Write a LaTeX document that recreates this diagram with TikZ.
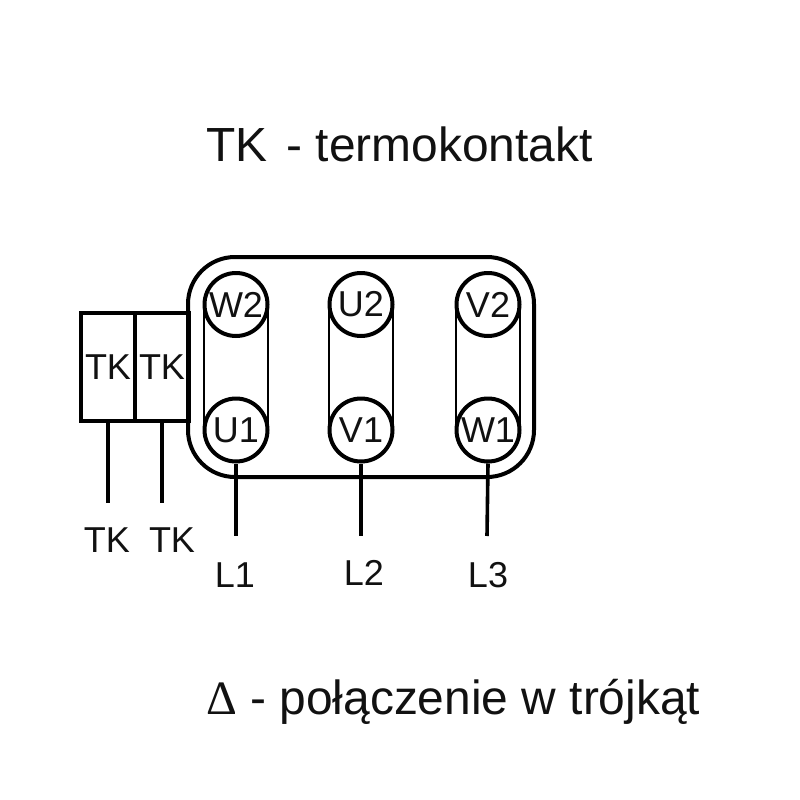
\documentclass[tikz,border=0pt]{standalone}
\usepackage{fontspec}
\setmainfont{Liberation Sans}
\newfontfamily\deltafont{Liberation Serif}
\definecolor{ink}{HTML}{111111}
\tikzset{
  x=1pt,y=-1pt,
  lead/.style={draw=black,line width=3.6pt},
  thinlink/.style={draw=black,line width=2.2pt},
  term/.style={circle,draw=black,line width=4pt,fill=white,minimum size=63pt,inner sep=0pt,text=ink,font=\fontsize{36}{36}\selectfont},
  tkbox/.style={rectangle,draw=black,line width=4pt,minimum width=54pt,minimum height=108pt,inner sep=0pt,text=ink,font=\fontsize{36}{36}\selectfont},
  lab/.style={inner sep=0pt,text=ink,font=\fontsize{36}{36}\selectfont},
  big/.style={inner sep=0pt,text=ink,anchor=base west,font=\fontsize{47.9}{48}\selectfont},
}
\begin{document}
\begin{tikzpicture}
\useasboundingbox (0,0) rectangle (800,800);
\fill[white] (0,0) rectangle (800,800);
\node[big] (title) at (206,161) {TK\hspace{6pt} - termokontakt};
\node[big] (legend) at (206,714) {{\deltafont Δ} - połączenie w trójkąt};
% housing
\node[rectangle,draw=black,line width=4pt,rounded corners=47pt,minimum width=346pt,minimum height=220pt,inner sep=0pt] (housing) at (361,367) {};
% thermal contacts
\node[tkbox] (tka) at (108,367) {};
\node[tkbox] (tkb) at (162,367) {};
\node[lab] at (tka) {TK};
\node[lab] at (tkb) {TK};
% free ends
\coordinate (e1) at (236,536);
\coordinate (e2) at (361,536);
\coordinate (e3) at (487,536);
\coordinate (t1) at (108,503);
\coordinate (t2) at (162,503);
\node[term] (W2) at (236,304.5) {W2};
\node[term] (U2) at (361,304.5) {U2};
\node[term] (V2) at (488,304.5) {V2};
\node[term] (U1) at (236,430) {U1};
\node[term] (V1) at (361,430) {V1};
\node[term] (W1) at (488,430) {W1};
\foreach \a/\b in {W2/U1,U2/V1,V2/W1}{
  \draw[thinlink] ([xshift=-1.5pt]\a.east) -- ([xshift=-1.5pt]\b.east);
  \draw[thinlink] ([xshift=1.5pt]\a.west) -- ([xshift=1.5pt]\b.west);
}
\draw[lead] (U1.south) -- (e1);
\draw[lead] (V1.south) -- (e2);
\draw[lead] (W1.south) -- (e3);
\draw[lead] (tka.south) -- (t1);
\draw[lead] (tkb.south) -- (t2);
\node[lab] (lt1) at (107,540) {TK};
\node[lab] (lt2) at (172,540) {TK};
\node[lab] (l1) at (235,575) {L1};
\node[lab] (l2) at (364,573) {L2};
\node[lab] (l3) at (488,575) {L3};
\end{tikzpicture}
\end{document}
